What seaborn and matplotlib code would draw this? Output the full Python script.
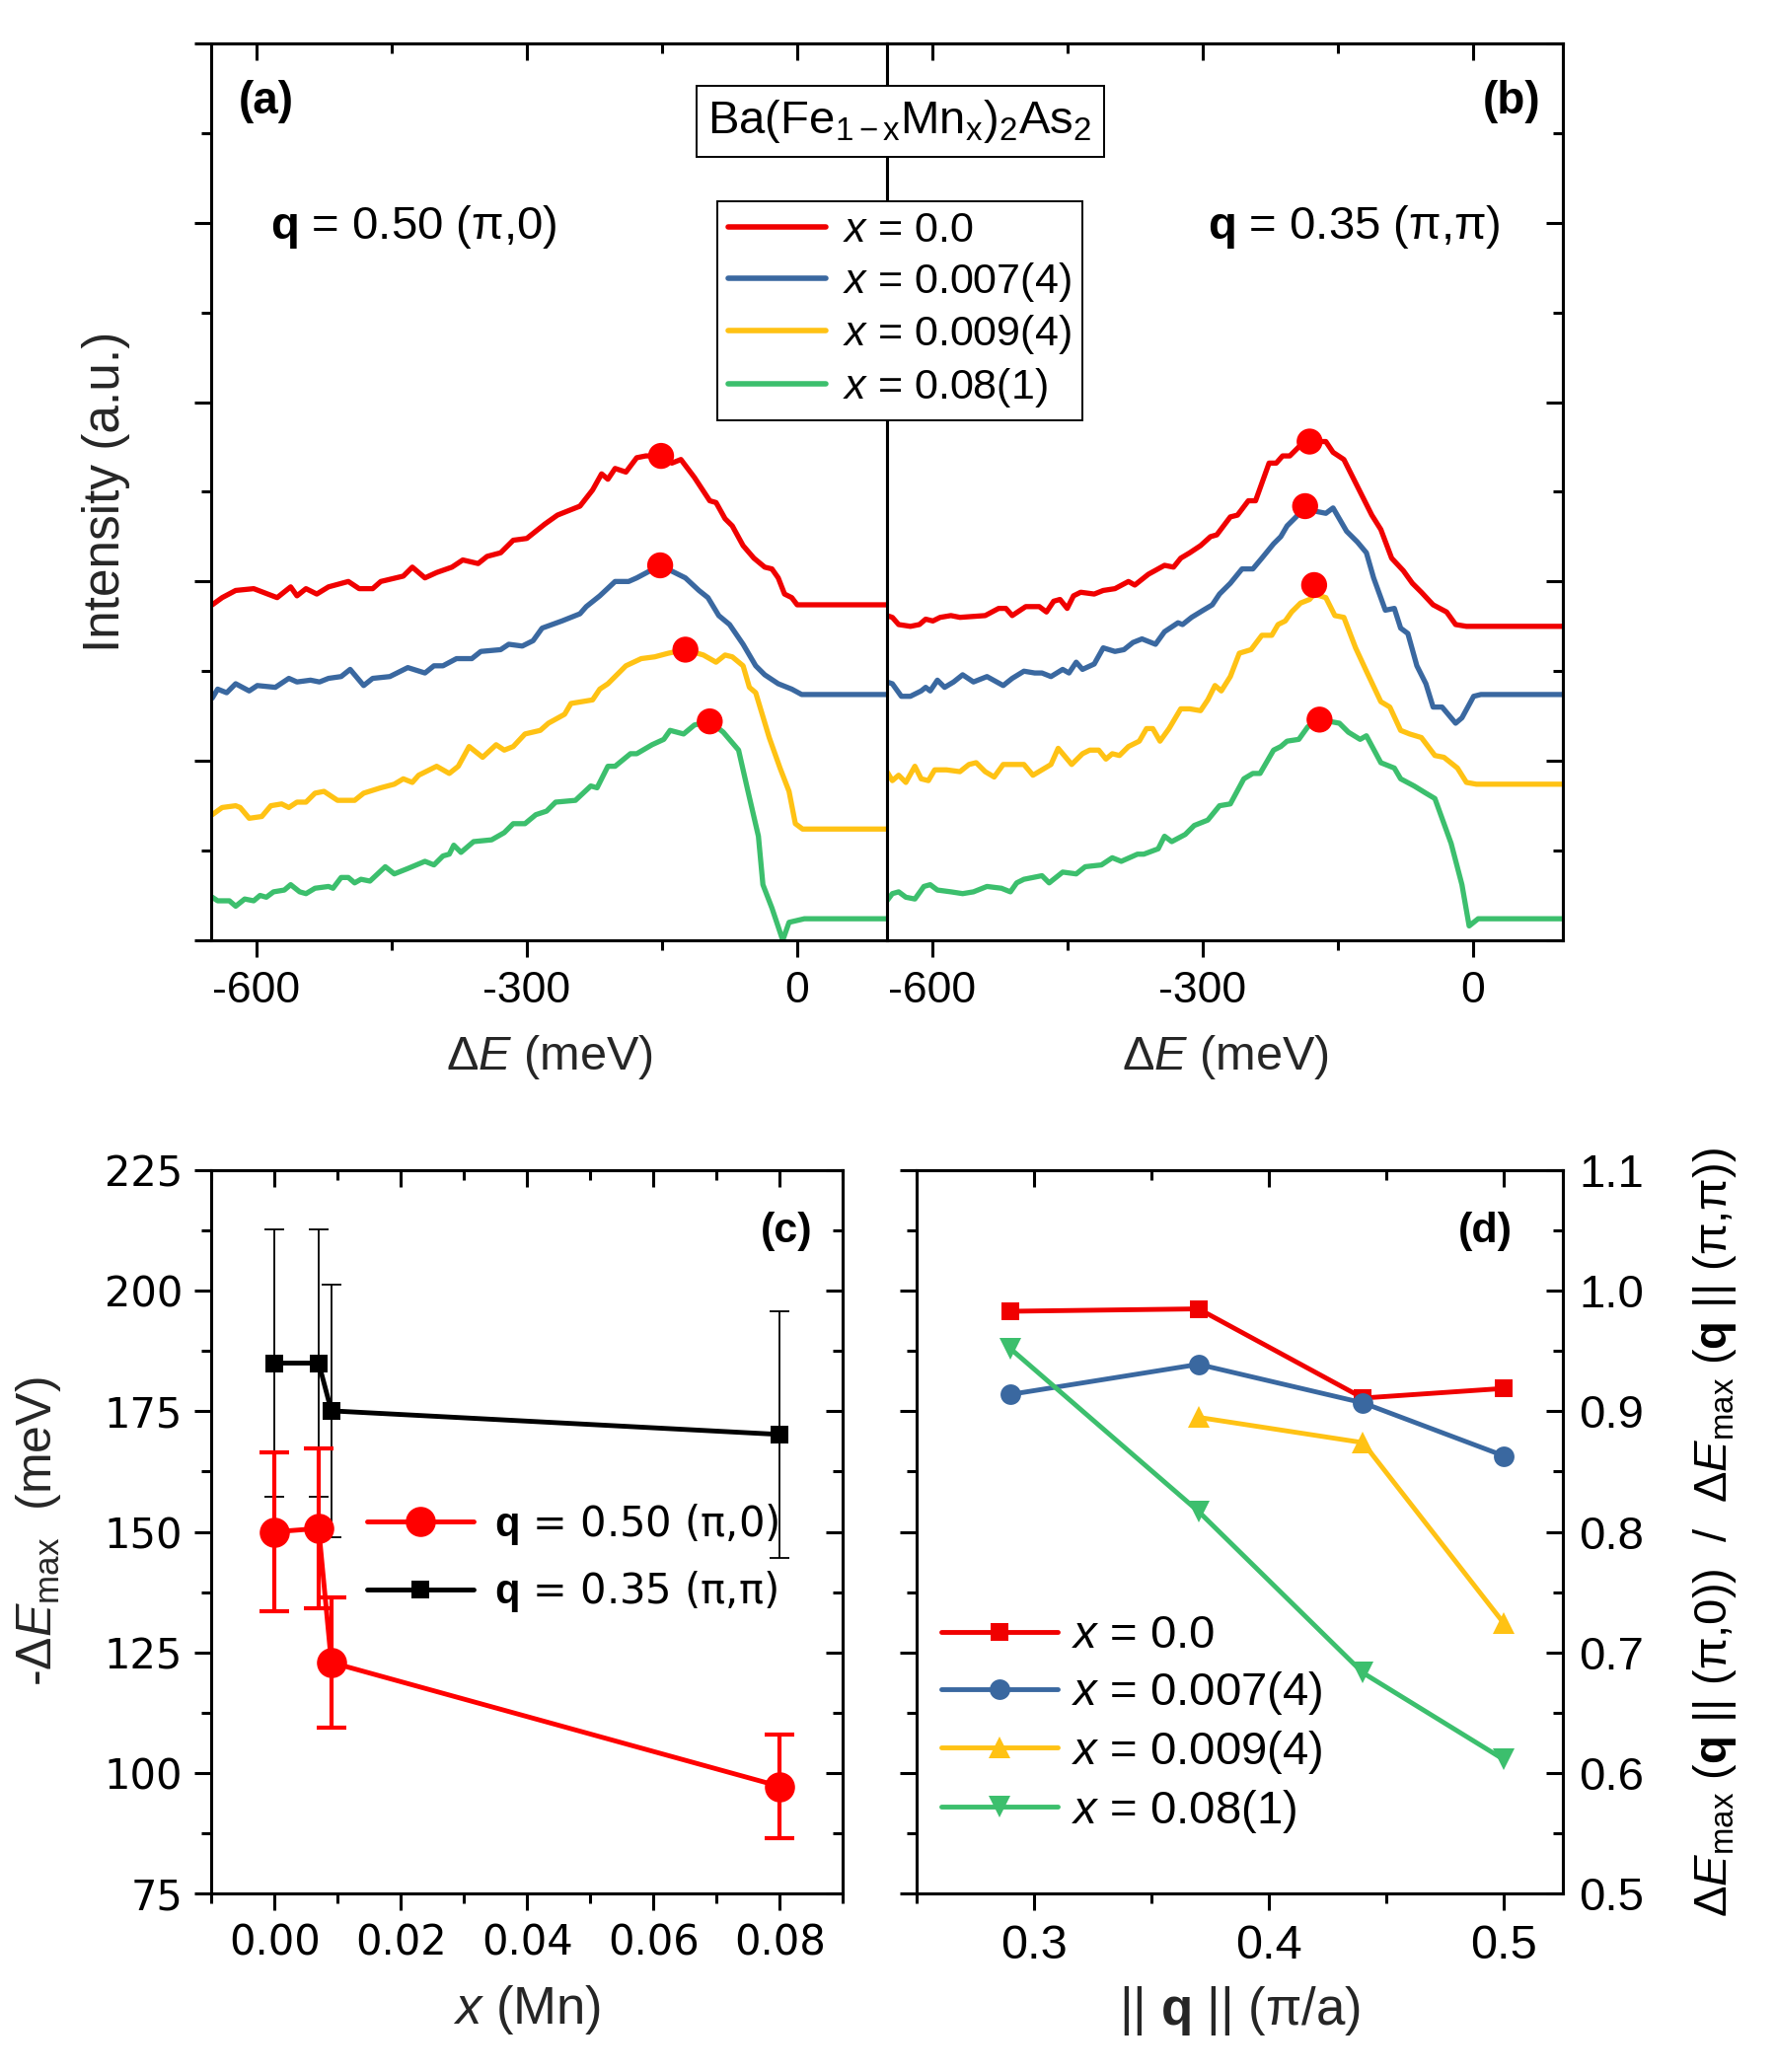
# Ba(Fe1-xMnx)2As2: RIXS spectra (a, b) and peak energies (c, d)
import numpy as np
import seaborn as sns
import matplotlib.pyplot as plt
from matplotlib.ticker import MultipleLocator, NullFormatter, FormatStrFormatter

sns.set_theme(style="ticks")
plt.rcParams['font.family'] = ['Liberation Sans', 'DejaVu Sans']
plt.rcParams['mathtext.fontset'] = 'custom'
plt.rcParams['mathtext.rm'] = 'Liberation Sans'
plt.rcParams['mathtext.it'] = 'Liberation Sans:italic'
plt.rcParams['mathtext.bf'] = 'Liberation Sans:bold'
plt.rcParams['axes.edgecolor'] = 'black'
plt.rcParams['axes.linewidth'] = 2.2
plt.rcParams['xtick.color'] = 'black'
plt.rcParams['ytick.color'] = 'black'
plt.rcParams['text.color'] = 'black'

NARROW = ['Liberation Sans Narrow', 'Liberation Sans', 'DejaVu Sans']

# -----------------------------
# Data
# -----------------------------
labels_x = [r'$x$ = 0.0', r'$x$ = 0.007(4)', r'$x$ = 0.009(4)', r'$x$ = 0.08(1)']
colors = ['#F00000', '#3A68A0', '#FFC214', '#3CBF6D']
RED = '#FF0000'

# (a) q = 0.50 (pi,0); energy loss (meV) and offset intensity (a.u.)
e_a_x0 = [-649, -638, -623, -603, -577, -562, -555, -545, -533, -520, -498, -486, -471, -462, -437,
          -427, -413, -400, -383, -371, -354, -344, -329, -315, -300, -280, -266, -241, -227, -217,
          -210, -202, -190, -178, -168, -151, -139, -129, -114, -97, -90, -80, -72, -60, -48,
          -36, -28, -21, -14, -6, 0, 100]
i_a_x0 = [1.87, 1.91, 1.95, 1.96, 1.91, 1.97, 1.92, 1.96, 1.93, 1.97, 2.00, 1.96, 1.96, 2.00, 2.03,
          2.08, 2.02, 2.05, 2.08, 2.12, 2.10, 2.14, 2.16, 2.23, 2.24, 2.32, 2.37, 2.42, 2.51, 2.60,
          2.57, 2.63, 2.61, 2.69, 2.70, 2.70, 2.66, 2.68, 2.58, 2.45, 2.44, 2.35, 2.31, 2.20, 2.13,
          2.08, 2.07, 2.02, 1.93, 1.91, 1.87, 1.87]
e_a_x007 = [-649, -643, -633, -623, -608, -599, -579, -564, -555, -540, -530, -520, -506, -496, -481,
            -471, -452, -432, -413, -403, -393, -378, -361, -351, -329, -320, -305, -293, -283, -261,
            -241, -234, -219, -202, -187, -178, -163, -152, -136, -124, -109, -99, -87, -75, -60,
            -46, -36, -21, -6, 5, 100]
i_a_x007 = [1.35, 1.40, 1.38, 1.43, 1.39, 1.42, 1.41, 1.46, 1.44, 1.45, 1.44, 1.46, 1.47, 1.51, 1.42,
            1.46, 1.47, 1.52, 1.49, 1.53, 1.53, 1.57, 1.57, 1.61, 1.62, 1.65, 1.64, 1.67, 1.74, 1.78,
            1.82, 1.86, 1.92, 2.00, 2.00, 2.02, 2.06, 2.09, 2.05, 2.02, 1.95, 1.91, 1.81, 1.76, 1.65,
            1.53, 1.48, 1.43, 1.40, 1.37, 1.37]
e_a_x009 = [-649, -638, -623, -618, -608, -594, -584, -572, -564, -555, -545, -535, -525, -510, -491,
            -481, -462, -447, -437, -427, -420, -400, -386, -376, -364, -349, -334, -325, -315, -302,
            -285, -276, -258, -251, -227, -219, -210, -190, -173, -158, -143, -124, -104, -90, -80,
            -72, -60, -53, -46, -31, -19, -9, -2, 6, 100]
i_a_x009 = [0.70, 0.74, 0.75, 0.74, 0.68, 0.69, 0.75, 0.76, 0.74, 0.77, 0.77, 0.82, 0.83, 0.78, 0.78,
            0.82, 0.85, 0.87, 0.90, 0.88, 0.92, 0.97, 0.93, 0.97, 1.08, 1.02, 1.09, 1.06, 1.08, 1.15,
            1.17, 1.21, 1.26, 1.32, 1.34, 1.40, 1.43, 1.53, 1.57, 1.58, 1.60, 1.62, 1.59, 1.55, 1.59,
            1.58, 1.53, 1.41, 1.38, 1.13, 0.96, 0.83, 0.65, 0.62, 0.62]
e_a_x08 = [-649, -643, -630, -623, -613, -603, -596, -589, -581, -569, -562, -552, -545, -535, -520,
           -515, -506, -498, -491, -484, -474, -457, -447, -432, -413, -403, -393, -386, -381, -373,
           -359, -339, -325, -315, -302, -290, -278, -268, -246, -229, -222, -210, -202, -185, -178,
           -161, -148, -141, -126, -114, -97, -82, -65, -55, -43, -38, -28, -16, -9, 8, 100]
i_a_x08 = [0.24, 0.22, 0.22, 0.19, 0.23, 0.22, 0.25, 0.24, 0.27, 0.28, 0.31, 0.27, 0.26, 0.29, 0.30,
           0.29, 0.35, 0.35, 0.32, 0.34, 0.33, 0.41, 0.37, 0.40, 0.44, 0.42, 0.47, 0.48, 0.53, 0.49,
           0.55, 0.56, 0.60, 0.65, 0.65, 0.70, 0.72, 0.77, 0.78, 0.86, 0.85, 0.97, 0.97, 1.04, 1.04,
           1.09, 1.12, 1.17, 1.15, 1.20, 1.22, 1.16, 1.06, 0.84, 0.58, 0.31, 0.18, 0.00, 0.10, 0.12, 0.12]
peak_e_a = [-151, -152, -124, -97]
peak_i_a = [2.70, 2.09, 1.62, 1.22]

# (b) q = 0.35 (pi,pi)
e_b_x0 = [-650, -644, -637, -624, -614, -607, -599, -591, -579, -569, -541, -526, -518, -511, -496,
          -481, -473, -465, -458, -450, -443, -435, -420, -410, -397, -382, -375, -360, -342, -332,
          -324, -314, -302, -291, -284, -269, -261, -249, -241, -226, -218, -211, -203, -193, -181,
          -163, -155, -143, -125, -112, -102, -90, -77, -67, -57, -44, -29, -19, -7, 100]
i_b_x0 = [1.81, 1.80, 1.76, 1.75, 1.76, 1.79, 1.78, 1.80, 1.81, 1.80, 1.81, 1.85, 1.85, 1.81, 1.86,
          1.86, 1.83, 1.89, 1.90, 1.85, 1.92, 1.94, 1.93, 1.95, 1.96, 2.00, 1.98, 2.04, 2.09, 2.08,
          2.13, 2.16, 2.20, 2.25, 2.26, 2.36, 2.37, 2.45, 2.45, 2.66, 2.66, 2.70, 2.70, 2.75, 2.78,
          2.78, 2.72, 2.68, 2.50, 2.37, 2.29, 2.13, 2.06, 1.99, 1.94, 1.87, 1.83, 1.76, 1.75, 1.75]
e_b_x007 = [-650, -644, -634, -624, -612, -607, -602, -594, -586, -576, -566, -554, -539, -521, -511,
            -498, -486, -478, -468, -455, -448, -440, -433, -420, -410, -397, -387, -377, -367, -352,
            -342, -327, -322, -312, -299, -289, -281, -269, -256, -244, -234, -221, -213, -206, -196,
            -186, -173, -163, -155, -140, -128, -118, -110, -97, -87, -80, -72, -62, -52, -44,
            -34, -19, -12, 1, 9, 100]
i_b_x007 = [1.44, 1.43, 1.36, 1.36, 1.39, 1.41, 1.39, 1.45, 1.41, 1.44, 1.48, 1.44, 1.47, 1.42, 1.46,
            1.50, 1.49, 1.49, 1.47, 1.51, 1.49, 1.55, 1.51, 1.54, 1.63, 1.61, 1.62, 1.66, 1.68, 1.65,
            1.72, 1.77, 1.76, 1.80, 1.84, 1.87, 1.93, 1.99, 2.07, 2.07, 2.13, 2.21, 2.25, 2.31, 2.36,
            2.42, 2.39, 2.38, 2.41, 2.28, 2.22, 2.16, 2.02, 1.84, 1.85, 1.74, 1.71, 1.53, 1.43, 1.30,
            1.30, 1.21, 1.24, 1.36, 1.37, 1.37]
e_b_x009 = [-650, -644, -637, -629, -619, -612, -604, -597, -584, -569, -559, -551, -541, -531, -521,
            -511, -498, -488, -478, -468, -460, -445, -433, -425, -415, -407, -400, -392, -382, -370,
            -362, -355, -347, -337, -324, -314, -302, -294, -286, -279, -269, -259, -246, -234, -223,
            -216, -208, -201, -191, -181, -176, -163, -153, -143, -130, -118, -102, -92, -80, -70,
            -57, -42, -32, -17, -7, 4, 100]
i_b_x009 = [0.94, 0.89, 0.92, 0.88, 0.97, 0.90, 0.89, 0.95, 0.95, 0.94, 0.98, 0.99, 0.94, 0.91, 0.98,
            0.98, 0.98, 0.92, 0.95, 0.98, 1.07, 0.98, 1.04, 1.06, 1.06, 1.01, 1.04, 1.03, 1.08, 1.11,
            1.18, 1.18, 1.11, 1.18, 1.29, 1.29, 1.28, 1.34, 1.42, 1.39, 1.47, 1.60, 1.62, 1.70, 1.70,
            1.76, 1.78, 1.83, 1.88, 1.90, 1.93, 1.91, 1.81, 1.80, 1.63, 1.50, 1.33, 1.30, 1.17, 1.15,
            1.13, 1.03, 1.02, 0.96, 0.88, 0.87, 0.87]
e_b_x08 = [-650, -644, -637, -629, -619, -609, -602, -594, -579, -566, -554, -539, -523, -513, -506,
           -498, -478, -470, -455, -440, -430, -412, -400, -390, -372, -365, -349, -342, -334, -319,
           -309, -294, -281, -269, -254, -244, -236, -221, -213, -206, -193, -183, -170, -148, -138,
           -125, -118, -102, -87, -80, -65, -52, -42, -24, -12, -4, 6, 100]
i_b_x08 = [0.22, 0.26, 0.27, 0.24, 0.23, 0.30, 0.31, 0.28, 0.27, 0.26, 0.27, 0.30, 0.29, 0.27, 0.32,
           0.34, 0.36, 0.32, 0.38, 0.37, 0.41, 0.42, 0.46, 0.44, 0.48, 0.48, 0.51, 0.58, 0.55, 0.59,
           0.64, 0.67, 0.75, 0.76, 0.90, 0.93, 0.93, 1.06, 1.08, 1.11, 1.12, 1.19, 1.23, 1.21, 1.16,
           1.12, 1.14, 0.99, 0.96, 0.90, 0.86, 0.82, 0.79, 0.54, 0.31, 0.08, 0.12, 0.12]
peak_e_b = [-181, -186, -176, -170]
peak_i_b = [2.78, 2.42, 1.98, 1.23]

e_ticks = [-600, -300, 0]

# (c) peak energy vs Mn content
x_mn = [0.0, 0.007, 0.009, 0.08]
emax_pi0 = [150.0, 150.7, 122.9, 97.2]
err_pi0 = [16.5, 16.5, 13.5, 10.7]
emax_pipi = [185.0, 185.0, 175.1, 170.2]
err_pipi = [27.8, 27.8, 26.2, 25.6]
c_xticks = [0.0, 0.02, 0.04, 0.06, 0.08]
c_yticks = [75, 100, 125, 150, 175, 200, 225]

# (d) ratio of peak energies vs |q|
q_norm = [0.29, 0.37, 0.44, 0.50]
ratio_x0 = [0.983, 0.985, 0.911, 0.919]
ratio_x007 = [0.914, 0.939, 0.907, 0.863]
q_norm_x009 = [0.37, 0.44, 0.50]
ratio_x009 = [0.895, 0.874, 0.724]
ratio_x08 = [0.952, 0.817, 0.683, 0.611]

# -----------------------------
# Figure
# -----------------------------
fig = plt.figure(figsize=(18, 21), dpi=100)
ax_a = fig.add_axes([0.119, 0.5462, 0.3806, 0.4329])
ax_b = fig.add_axes([0.4994, 0.5462, 0.3806, 0.4329])
ax_c = fig.add_axes([0.119, 0.0862, 0.3556, 0.349])
ax_d = fig.add_axes([0.516, 0.0862, 0.3639, 0.349])

LW = 2.2


def ticks_out(ax, **kw):
    ax.tick_params(which='both', direction='out', width=LW, **kw)
    ax.tick_params(which='major', length=12)
    ax.tick_params(which='minor', length=7)


def mirror(ax, side, major, minor, labels=False, labelsize=30):
    if side in ('top', 'bottom'):
        sec = ax.secondary_xaxis(side)
        axis = sec.xaxis
    else:
        sec = ax.secondary_yaxis(side)
        axis = sec.yaxis
    axis.set_major_locator(MultipleLocator(major))
    axis.set_minor_locator(MultipleLocator(minor))
    if not labels:
        axis.set_major_formatter(NullFormatter())
    sec.tick_params(which='both', direction='in', width=LW, labelsize=labelsize)
    sec.tick_params(which='major', length=12)
    sec.tick_params(which='minor', length=7)
    for sp in sec.spines.values():
        sp.set_linewidth(LW)
    return sec


# ---- panels (a) and (b)
spec_a = [(e_a_x0, i_a_x0), (e_a_x007, i_a_x007), (e_a_x009, i_a_x009), (e_a_x08, i_a_x08)]
spec_b = [(e_b_x0, i_b_x0), (e_b_x007, i_b_x007), (e_b_x009, i_b_x009), (e_b_x08, i_b_x08)]

for ax, spec, pe, pi in [(ax_a, spec_a, peak_e_a, peak_i_a), (ax_b, spec_b, peak_e_b, peak_i_b)]:
    for (e, inten), col, lab in zip(spec, colors, labels_x):
        sns.lineplot(x=e, y=inten, ax=ax, color=col, lw=3.8, estimator=None, sort=False,
                     legend=False, label=lab)
    sns.scatterplot(x=pe, y=pi, ax=ax, color=RED, s=360, edgecolor='none', zorder=5, legend=False)
    ax.set_xlim(-650, 100)
    ax.set_ylim(0, 5)
    ax.set_xticks(e_ticks)
    ax.set_xticklabels([str(v) for v in e_ticks], fontfamily=NARROW, fontsize=32)
    ax.xaxis.set_minor_locator(MultipleLocator(150))
    ax.yaxis.set_major_locator(MultipleLocator(1))
    ax.yaxis.set_minor_locator(MultipleLocator(0.5))
    ax.set_xlabel(r'Δ$E$ (meV)', fontfamily=NARROW, fontsize=35, labelpad=16)
    ax.set_ylabel('')
    mirror(ax, 'top', 300, 150)

ticks_out(ax_a, top=False, right=False, labelleft=False, pad=10)
ticks_out(ax_b, top=False, right=False, left=False, labelleft=False, pad=10)
mirror(ax_b, 'right', 1, 0.5)
ax_a.set_ylabel('Intensity (a.u.)', fontsize=37)
ax_a.yaxis.set_label_coords(-0.12, 0.5)

ax_a.text(0.04, 0.935, '(a)', transform=ax_a.transAxes, fontsize=33, fontweight='bold',
          family=NARROW, va='center', ha='left')
ax_b.text(0.967, 0.935, '(b)', transform=ax_b.transAxes, fontsize=33, fontweight='bold',
          family=NARROW, va='center', ha='right')
ax_a.text(0.088, 0.795, r'$\mathbf{q}$ = 0.50 (π,0)', transform=ax_a.transAxes, fontsize=34,
          family=NARROW, va='center', ha='left')
ax_b.text(0.474, 0.795, r'$\mathbf{q}$ = 0.35 (π,π)', transform=ax_b.transAxes, fontsize=34,
          family=NARROW, va='center', ha='left')

fig.text(0.5067, 0.9414, r'Ba(Fe$_{\mathrm{1-x}}$Mn$_{\mathrm{x}}$)$_{\mathrm{2}}$As$_{\mathrm{2}}$',
         fontsize=34, family=NARROW, ha='center', va='center', zorder=10,
         bbox=dict(boxstyle='square,pad=0.25', fc='white', ec='black', lw=1.4))

handles, labs = ax_a.get_legend_handles_labels()
leg = fig.legend(handles, labs, loc='upper left', bbox_to_anchor=(0.404, 0.903),
                 prop={'family': NARROW, 'size': 31}, frameon=True, fancybox=False,
                 edgecolor='black', framealpha=1, borderpad=0.25, borderaxespad=0,
                 handlelength=2.3, handletextpad=0.4, labelspacing=0.22)
leg.get_frame().set_linewidth(1.4)
for h in leg.get_lines():
    h.set_linewidth(4)

# ---- panel (c)
ax_c.errorbar(x_mn, emax_pipi, yerr=err_pipi, fmt='none', ecolor='black', elinewidth=1.3,
              capsize=7, capthick=1.3, zorder=2)
ax_c.errorbar(x_mn, emax_pi0, yerr=err_pi0, fmt='none', ecolor=RED, elinewidth=3,
              capsize=11, capthick=3, zorder=2)
sns.lineplot(x=x_mn, y=emax_pi0, ax=ax_c, color=RED, lw=3.5, marker='o', markersize=22,
             markeredgewidth=0, estimator=None, sort=False, legend=False,
             label=r'$\mathbf{q}$ = 0.50 (π,0)', zorder=3)
sns.lineplot(x=x_mn, y=emax_pipi, ax=ax_c, color='black', lw=3.5, marker='s', markersize=13,
             markeredgewidth=0, estimator=None, sort=False, legend=False,
             label=r'$\mathbf{q}$ = 0.35 (π,π)', zorder=3)
ax_c.set_xlim(-0.01, 0.09)
ax_c.set_ylim(75, 225)
ax_c.set_xticks(c_xticks)
ax_c.set_xticklabels([f'{v:.2f}' for v in c_xticks], fontfamily='DejaVu Sans', fontsize=30)
ax_c.set_yticks(c_yticks)
ax_c.set_yticklabels([str(v) for v in c_yticks], fontfamily='DejaVu Sans', fontsize=30)
ax_c.xaxis.set_minor_locator(MultipleLocator(0.01))
ax_c.yaxis.set_minor_locator(MultipleLocator(12.5))
ticks_out(ax_c, top=False, right=False, pad=9)
mirror(ax_c, 'top', 0.02, 0.01)
mirror(ax_c, 'right', 25, 12.5)
ax_c.set_xlabel(r'$x$ (Mn)', fontsize=38, labelpad=14)
ax_c.set_ylabel(r'-Δ$E_{\mathrm{max}}$  (meV)', fontsize=36)
ax_c.yaxis.set_label_coords(-0.235, 0.5)
ax_c.text(0.952, 0.916, '(c)', transform=ax_c.transAxes, fontsize=31, fontweight='bold',
          ha='right', va='center')
ax_c.legend(loc='upper left', bbox_to_anchor=(0.22, 0.565), frameon=False,
            prop={'family': ['DejaVu Sans'], 'size': 30}, handlelength=2.6,
            handletextpad=0.5, labelspacing=0.55, borderaxespad=0)

# ---- panel (d)
d_series = [(q_norm, ratio_x0, 's', 13), (q_norm, ratio_x007, 'o', 15),
            (q_norm_x009, ratio_x009, '^', 16), (q_norm, ratio_x08, 'v', 16)]
for (qq, rr, mk, ms), col, lab in zip(d_series, colors, labels_x):
    sns.lineplot(x=qq, y=rr, ax=ax_d, color=col, lw=3.5, marker=mk, markersize=ms,
                 markeredgewidth=0, estimator=None, sort=False, legend=False, label=lab)
ax_d.set_xlim(0.25, 0.525)
ax_d.set_ylim(0.5, 1.1)
ax_d.xaxis.set_major_locator(MultipleLocator(0.1))
ax_d.xaxis.set_minor_locator(MultipleLocator(0.05))
ax_d.xaxis.set_major_formatter(FormatStrFormatter('%.1f'))
ax_d.yaxis.set_major_locator(MultipleLocator(0.1))
ax_d.yaxis.set_minor_locator(MultipleLocator(0.05))
ticks_out(ax_d, top=False, right=False, labelleft=False, labelsize=35, pad=10)
mirror(ax_d, 'top', 0.1, 0.05)
sec_r = mirror(ax_d, 'right', 0.1, 0.05, labels=True, labelsize=34)
sec_r.yaxis.set_major_formatter(FormatStrFormatter('%.1f'))
sec_r.tick_params(which='both', pad=12)
ax_d.set_xlabel(r'|| $\mathbf{q}$ || (π/a)', fontsize=38, labelpad=12)
ax_d.set_ylabel('')
ax_d.text(1.235, 0.5,
          r'Δ$E_{\mathrm{max}}$ ($\mathbf{q}$ || (π,0))  /  Δ$E_{\mathrm{max}}$ ($\mathbf{q}$ || (π,π))',
          transform=ax_d.transAxes, rotation=90, fontsize=34, ha='center', va='center')
ax_d.text(0.922, 0.916, '(d)', transform=ax_d.transAxes, fontsize=31, fontweight='bold',
          ha='right', va='center')
ax_d.legend(loc='lower left', bbox_to_anchor=(0.01, 0.055), frameon=False,
            prop={'size': 34}, handlelength=2.5, handletextpad=0.3, labelspacing=0.25,
            borderaxespad=0)

fig.savefig('out.png', dpi=100, facecolor='white')
